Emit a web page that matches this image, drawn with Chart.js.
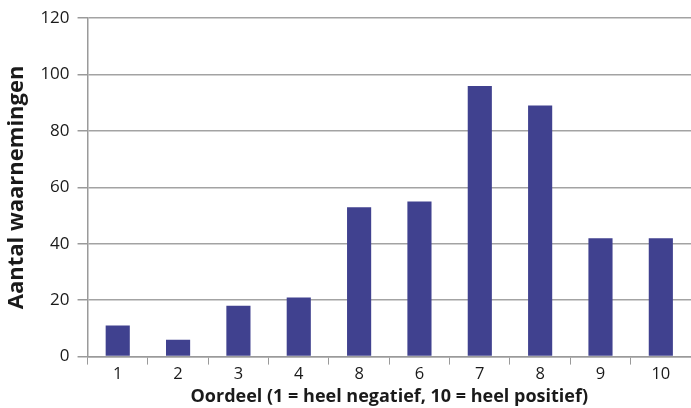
<!DOCTYPE html>
<html>
<head>
<meta charset="utf-8">
<script src="https://cdn.jsdelivr.net/npm/chart.js@4/dist/chart.umd.min.js"></script>
<style>
html,body{margin:0;padding:0;background:#fff;}
#wrap{width:691px;height:408px;position:relative;}
</style>
</head>
<body>
<div id="wrap"><canvas id="c"></canvas></div>
<script>
const categories = ['1','2','3','4','8','6','7','8','9','10'];
const counts = [11, 6, 18, 21, 53, 55, 96, 89, 42, 42];
const yTicks = [0, 20, 40, 60, 80, 100, 120];
const xTitle = 'Oordeel (1 = heel negatief, 10 = heel positief)';
const yTitle = 'Aantal waarnemingen';

const FONT = "'Open Sans', 'Noto Sans', sans-serif";
new Chart(document.getElementById('c'), {
  type: 'bar',
  data: {
    labels: categories,
    datasets: [{
      data: counts,
      backgroundColor: '#40418f',
      borderWidth: 0,
      barPercentage: 0.4,
      categoryPercentage: 1.0
    }]
  },
  options: {
    responsive: true,
    maintainAspectRatio: false,
    animation: false,
    devicePixelRatio: 1,
    layout: { padding: { top: 2, right: 0, left: 4, bottom: 0 } },
    plugins: { legend: { display: false }, tooltip: { enabled: false } },
    scales: {
      x: {
        offset: true,
        grid: { offset: true, drawOnChartArea: false, drawTicks: true, tickLength: 8, color: '#9a9a9a', lineWidth: 1 },
        border: { color: '#9a9a9a', width: 1.5 },
        ticks: { color: '#1a1a1a', font: { family: FONT, size: 16.5 }, padding: 0, maxRotation: 0 },
        title: { display: true, text: xTitle, color: '#1a1a1a', font: { family: FONT, size: 18, weight: 'bold' }, padding: { top: 2, bottom: 0 } }
      },
      y: {
        min: 0, max: 120,
        afterBuildTicks: (axis) => { axis.ticks = yTicks.map(v => ({ value: v })); },
        grid: { color: '#a3a3a3', lineWidth: 1.5, drawTicks: true, tickLength: 10, tickColor: '#9a9a9a' },
        border: { color: '#9a9a9a', width: 1.5 },
        ticks: { color: '#1a1a1a', font: { family: FONT, size: 17 }, padding: 8 },
        title: { display: true, text: yTitle, color: '#1a1a1a', font: { family: FONT, size: 22, weight: 'bold' }, padding: { top: 0, bottom: 2 } }
      }
    }
  }
});
</script>
</body>
</html>
